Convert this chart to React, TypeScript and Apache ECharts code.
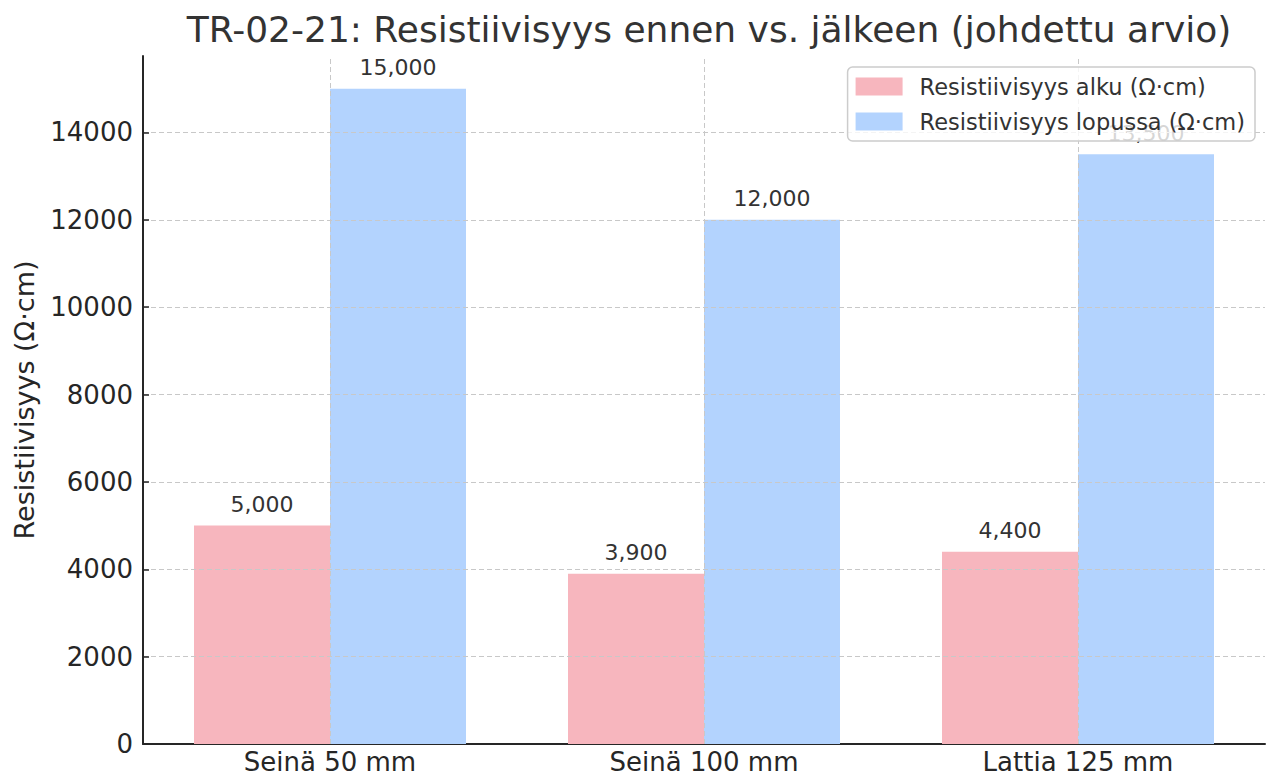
import React, { useEffect, useRef } from "react";
import * as echarts from "echarts";

const categories = ["Seinä 50 mm", "Seinä 100 mm", "Lattia 125 mm"];
const startValues = [5000, 3900, 4400];
const endValues = [15000, 12000, 13500];
const yTicks = [0, 2000, 4000, 6000, 8000, 10000, 12000, 14000];
const seriesNames = ["Resistiivisyys alku (Ω·cm)", "Resistiivisyys lopussa (Ω·cm)"];
const titleText = "TR-02-21: Resistiivisyys ennen vs. jälkeen (johdettu arvio)";
const yName = "Resistiivisyys (Ω·cm)";

const FONT = "DejaVu Sans";
const gridLine = { color: "#c8c8c8", type: [5, 3] as number[], width: 1 };

export default function App() {
  const ref = useRef<HTMLDivElement>(null);
  useEffect(() => {
    if (!ref.current) return;
    const chart = echarts.init(ref.current, null, { renderer: "svg" });
    const labelFmt = (p: any) => Number(p.value).toLocaleString("en-US");
    chart.setOption({
      animation: false,
      backgroundColor: "#ffffff",
      textStyle: { fontFamily: FONT },
      title: {
        text: titleText,
        left: 704,
        textAlign: "center",
        top: 6,
        textStyle: { fontFamily: FONT, fontSize: 36, fontWeight: "normal", color: "#333333" },
      },
      legend: {
        right: 11,
        top: 67,
        z: 20,
        orient: "vertical",
        itemWidth: 47,
        itemHeight: 18,
        itemGap: 12,
        padding: [8, 10, 8, 8],
        borderColor: "#cccccc",
        borderWidth: 1.5,
        borderRadius: 5,
        backgroundColor: "rgba(255,255,255,0.8)",
        icon: "rect",
        textStyle: { fontFamily: FONT, fontSize: 22.5, color: "#333333", padding: [0, 0, 0, 12] },
        data: seriesNames,
      },
      grid: { left: 143, right: 1, top: 56, bottom: 32, containLabel: false },
      xAxis: {
        type: "category",
        data: categories,
        boundaryGap: true,
        axisLine: { lineStyle: { color: "#262626", width: 2 } },
        axisTick: { show: true, alignWithLabel: true, inside: true, length: 6, lineStyle: { color: "#262626", width: 1.5 } },
        axisLabel: { fontFamily: FONT, fontSize: 26, lineHeight: 22, color: "#262626", margin: 7 },
        splitLine: { show: false },
      },
      yAxis: {
        type: "value",
        min: 0,
        max: 15750,
        interval: 2000,
        z: 10,
        name: yName,
        nameLocation: "middle",
        nameGap: 105,
        nameTextStyle: { fontFamily: FONT, fontSize: 27, color: "#262626" },
        axisLine: { show: true, lineStyle: { color: "#262626", width: 2 } },
        axisTick: { show: true, inside: true, length: 6, customValues: yTicks, lineStyle: { color: "#262626", width: 1.5 } },
        axisLabel: {
          fontFamily: FONT,
          fontSize: 26,
          color: "#262626",
          margin: 10,
          customValues: yTicks,
          formatter: (v: number) => String(v),
        },
        splitLine: { show: false },
      },
      series: [
        {
          name: seriesNames[0],
          type: "bar",
          data: startValues,
          barWidth: 136,
          barGap: "0%",
          itemStyle: { color: "#F7B6BE" },
          label: { show: true, position: "top", distance: 10, formatter: labelFmt, fontFamily: FONT, fontSize: 22, color: "#333333" },
          markLine: {
            silent: true,
            symbol: "none",
            label: { show: false },
            lineStyle: gridLine,
            data: yTicks.filter((v) => v > 0).map((v) => ({ yAxis: v })),
          },
        },
        {
          name: seriesNames[1],
          type: "bar",
          data: endValues,
          barWidth: 136,
          barGap: "0%",
          itemStyle: { color: "#B3D3FE" },
          label: { show: true, position: "top", distance: 10, formatter: labelFmt, fontFamily: FONT, fontSize: 22, color: "#333333" },
        },
        {
          name: "grid",
          type: "line",
          data: [],
          z: 3,
          markLine: {
            silent: true,
            symbol: "none",
            label: { show: false },
            lineStyle: gridLine,
            data: categories.map((c) => ({ xAxis: c })),
          },
        },
      ],
    });
    return () => chart.dispose();
  }, []);
  return <div ref={ref} style={{ width: 1266, height: 776, position: "absolute", left: 0, top: 0 }} />;
}
